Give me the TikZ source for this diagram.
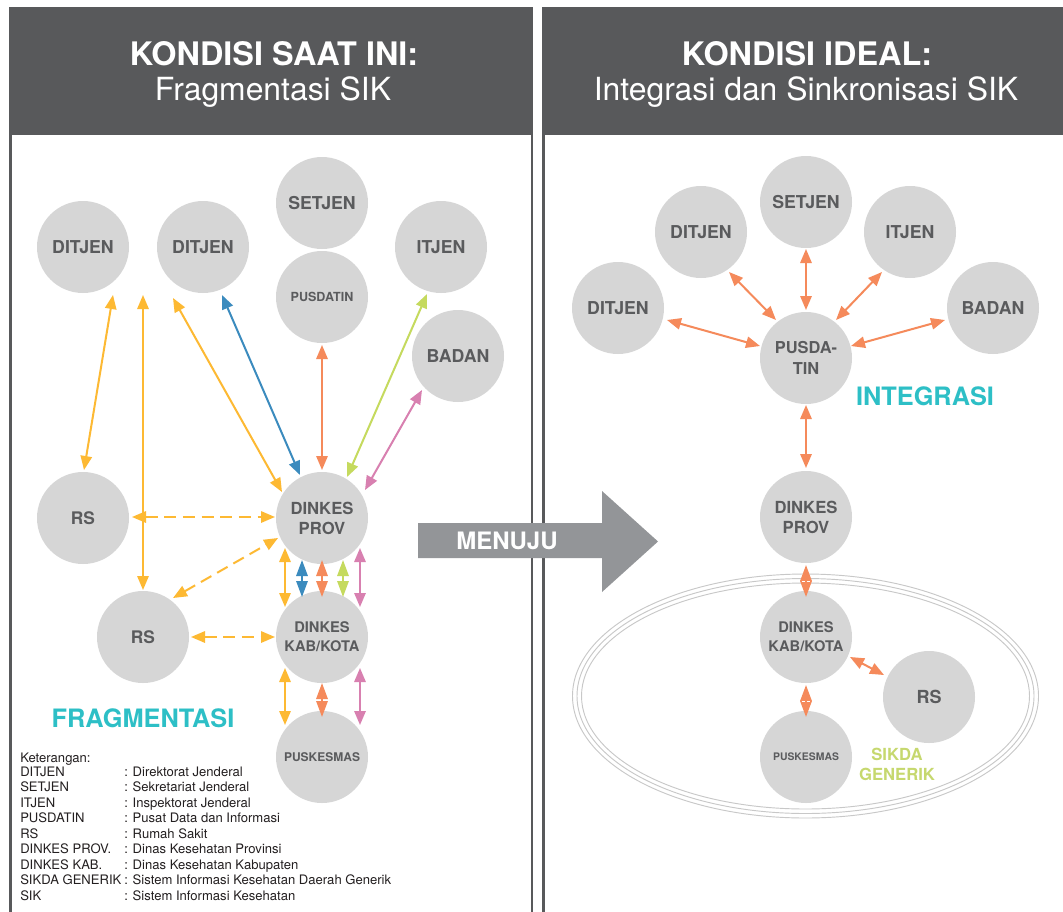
\documentclass[tikz,border=0pt]{standalone}
\usepackage{fontspec}
\setmainfont{TeX Gyre Heros}
\usetikzlibrary{arrows.meta,decorations.markings}

\definecolor{hdr}{HTML}{58595B}
\definecolor{nodefill}{HTML}{D6D6D6}
\definecolor{nodetext}{HTML}{5A5B5D}
\definecolor{cyel}{HTML}{FDB933}
\definecolor{cblu}{HTML}{3B8BBE}
\definecolor{cora}{HTML}{F58A5B}
\definecolor{cgrn}{HTML}{C5DA5E}
\definecolor{cpnk}{HTML}{D880B0}
\definecolor{tealtxt}{HTML}{2DBFC6}
\definecolor{sikda}{HTML}{C6D86E}
\definecolor{menuju}{HTML}{939598}
\definecolor{ring}{HTML}{C8C8C8}
\definecolor{legtext}{HTML}{231F20}

\newcommand{\fsz}[2]{\fontsize{#1}{#2}\selectfont\bfseries}

\tikzset{
  unit/.style={circle, fill=nodefill, minimum size=69pt, inner sep=0pt,
    text=nodetext, align=center},
  link/.style={line width=1.5pt,
    {Triangle[length=10.5pt,width=8.5pt]}-{Triangle[length=10.5pt,width=8.5pt]}},
  dlink/.style={link, dash pattern=on 9pt off 5pt},
  twin/.style={line width=1.5pt,
    {Triangle[length=12pt,width=8.5pt]}-{Triangle[length=12pt,width=8.5pt]},
    postaction={decorate},
    decoration={markings, mark=at position 0.5 with {
      \draw[-, white, line width=0.5pt] (0,-3.2pt) -- (0,-0.8pt) (0,0.8pt) -- (0,3.2pt);}}},
  legend/.style={anchor=base west, inner sep=0pt, text=legtext,
    font=\fontsize{9.8}{12}\selectfont},
  headtitle/.style={anchor=base, inner sep=0pt, text=white,
    font=\fontsize{24.3}{28}\selectfont\bfseries},
  headsub/.style={anchor=base, inner sep=0pt, text=white,
    font=\fontsize{23.9}{28}\selectfont},
  tag/.style={anchor=base, inner sep=0pt, text=tealtxt,
    font=\fontsize{19}{22}\selectfont\bfseries},
}

\begin{document}
\begin{tikzpicture}[x=0.75pt, y=-0.75pt]
\useasboundingbox (0,0) rectangle (1063,911);
\clip (0,0) rectangle (1063,911);
\fill[white] (0,0) rectangle (1063,911);

% panels with dark headers
\draw[hdr, line width=1.6pt] (10.5,8) rectangle (532,940);
\fill[hdr] (10,8) rectangle (532.5,135);
\draw[hdr, line width=1.6pt] (543.5,8) rectangle (1080,940);
\fill[hdr] (543,8) rectangle (1080,135);

\node[headtitle] (lt) at (274,65) {KONDISI SAAT INI:};
\node[headsub] (ls) at (273,100) {Fragmentasi SIK};
\node[headtitle] (rt) at (807,65) {KONDISI IDEAL:};
\node[headsub] (rsub) at (806,100) {Integrasi dan Sinkronisasi SIK};

% transition arrow between the panels
\fill[menuju] (418,523) -- (602,523) -- (602,491) -- (658,541.5)
  -- (602,592) -- (602,558) -- (418,558) -- cycle;
\node[anchor=center, inner sep=0pt, text=white,
  font=\fontsize{18}{20}\selectfont\bfseries] (mn) at (507,541) {MENUJU};

% ---------- current condition ----------
\node[unit, font=\fsz{13.3}{16}] (d1) at (83,247) {DITJEN};
\node[unit, font=\fsz{13.3}{16}] (d2) at (203,247) {DITJEN};
\node[unit, font=\fsz{13.3}{16}] (setjen) at (322,203) {SETJEN};
\node[unit, font=\fsz{9.4}{11}] (pusdatin) at (322,297) {PUSDATIN};
\node[unit, font=\fsz{13.3}{16}] (itjen) at (441,247) {ITJEN};
\node[unit, font=\fsz{13.3}{16}] (badan) at (458,356) {BADAN};
\node[unit, font=\fsz{13}{16}] (rs1) at (83,518) {RS};
\node[unit, font=\fsz{12.5}{15}] (prov) at (322,518) {DINKES\\PROV};
\node[unit, font=\fsz{13}{16}] (rs2) at (143,637) {RS};
\node[unit, font=\fsz{11}{14.25}] (kab) at (322,637) {DINKES\\KAB/KOTA};
\node[unit, font=\fsz{9}{11}] (pusk) at (322,757) {PUSKESMAS};
\coordinate (free) at (143,295);

\node[tag] (frag) at (143,727) {FRAGMENTASI};

\draw[link, cyel] ([shift={(30,48)}]d1.center) -- ([shift={(1,-48)}]rs1.center);
\draw[link, cyel] (free) -- ([shift={(0,-47)}]rs2.center);
\draw[link, cyel] ([shift={(-30,51)}]d2.center) -- ([shift={(-40,-26)}]prov.center);
\draw[link, cblu] ([shift={(19,48)}]d2.center) -- ([shift={(-22,-43)}]prov.center);
\draw[link, cora] ([shift={(0,48)}]pusdatin.center) -- ([shift={(0,-48)}]prov.center);
\draw[link, cgrn] ([shift={(-14,47)}]itjen.center) -- ([shift={(25,-41)}]prov.center);
\draw[link, cpnk] ([shift={(-36,34)}]badan.center) -- ([shift={(43,-28)}]prov.center);
\draw[dlink, cyel] ([shift={(49,-1)}]rs1.center) -- ([shift={(-47,-1)}]prov.center);
\draw[dlink, cyel] ([shift={(30,-39)}]rs2.center) -- ([shift={(-44,20)}]prov.center);
\draw[dlink, cyel] ([shift={(48,0)}]rs2.center) -- ([shift={(-47,0)}]kab.center);

\draw[link, cyel] ([shift={(-37,30)}]prov.center) -- ([shift={(-37,-30)}]kab.center);
\draw[twin, cblu] ([shift={(-20,42)}]prov.center) -- ([shift={(-20,-40)}]kab.center);
\draw[twin, cora] ([shift={(0,42)}]prov.center) -- ([shift={(0,-40)}]kab.center);
\draw[twin, cgrn] ([shift={(21,42)}]prov.center) -- ([shift={(21,-40)}]kab.center);
\draw[link, cpnk] ([shift={(38,30)}]prov.center) -- ([shift={(38,-30)}]kab.center);

\draw[link, cyel] ([shift={(-37,31)}]kab.center) -- ([shift={(-37,-32)}]pusk.center);
\draw[twin, cora] ([shift={(0,46)}]kab.center) -- ([shift={(0,-40)}]pusk.center);
\draw[link, cpnk] ([shift={(38,31)}]kab.center) -- ([shift={(38,-32)}]pusk.center);

% legend
\node[legend] (k0) at (20,762) {Keterangan:};
\node[legend] (k1) at (20,776) {DITJEN};
\node[legend] (k2) at (20,791.5) {SETJEN};
\node[legend] (k3) at (20,807) {ITJEN};
\node[legend] (k4) at (20,822.5) {PUSDATIN};
\node[legend] (k5) at (20,838) {RS};
\node[legend] (k6) at (20,853.5) {DINKES PROV.};
\node[legend] (k7) at (20,869) {DINKES KAB.};
\node[legend] (k8) at (20,884.5) {SIKDA GENERIK};
\node[legend] (k9) at (20,900) {SIK};
\node[legend] (e1) at (124,776) {: Direktorat Jenderal};
\node[legend] (e2) at (124,791.5) {: Sekretariat Jenderal};
\node[legend] (e3) at (124,807) {: Inspektorat Jenderal};
\node[legend] (e4) at (124,822.5) {: Pusat Data dan Informasi};
\node[legend] (e5) at (124,838) {: Rumah Sakit};
\node[legend] (e6) at (124,853.5) {: Dinas Kesehatan Provinsi};
\node[legend] (e7) at (124,869) {: Dinas Kesehatan Kabupaten};
\node[legend] (e8) at (124,884.5) {: Sistem Informasi Kesehatan Daerah Generik};
\node[legend] (e9) at (124,900) {: Sistem Informasi Kesehatan};

% ---------- ideal condition ----------
% triple ring around the district level
\foreach \r in {0,4.5,9}
  \draw[ring, line width=0.7pt] (805.5,696) ellipse [x radius={(233-\r)*0.75pt}, y radius={(122-\r)*0.75pt}];

\node[unit, font=\fsz{13.3}{16}] (rd1) at (618,308) {DITJEN};
\node[unit, font=\fsz{13.3}{16}] (rd2) at (701,232) {DITJEN};
\node[unit, font=\fsz{13.3}{16}] (rset) at (806,202) {SETJEN};
\node[unit, font=\fsz{13.3}{16}] (rit) at (910,232) {ITJEN};
\node[unit, font=\fsz{13.3}{16}] (rbad) at (993,308) {BADAN};
\node[unit, font=\fsz{12.3}{15.75}] (rpus) at (806,358) {PUSDA-\\TIN};
\node[unit, font=\fsz{12.5}{15}] (rprov) at (806,517) {DINKES\\PROV};
\node[unit, font=\fsz{11}{14.25}] (rkab) at (806,637) {DINKES\\KAB/KOTA};
\node[unit, font=\fsz{13.5}{16}] (rrs) at (929,697) {RS};
\node[unit, font=\fsz{7.8}{10}] (rpusk) at (806,757) {PUSKESMAS};

\node[tag] (integ) at (925,405) {INTEGRASI};
\node[anchor=base, inner sep=0pt, text=sikda, font=\fsz{12.5}{15}] (sk1) at (897,760) {SIKDA};
\node[anchor=base, inner sep=0pt, text=sikda, font=\fsz{12.5}{15}] (sk2) at (897,780) {GENERIK};

\draw[link, cora] ([shift={(49,12)}]rd1.center) -- ([shift={(-46,-12)}]rpus.center);
\draw[link, cora] ([shift={(28,40)}]rd2.center) -- ([shift={(-30,-38)}]rpus.center);
\draw[link, cora] ([shift={(0,47)}]rset.center) -- ([shift={(0,-48)}]rpus.center);
\draw[link, cora] ([shift={(-28,40)}]rit.center) -- ([shift={(30,-38)}]rpus.center);
\draw[link, cora] ([shift={(-48,12)}]rbad.center) -- ([shift={(45,-12)}]rpus.center);
\draw[link, cora] ([shift={(0,47)}]rpus.center) -- ([shift={(0,-49)}]rprov.center);
\draw[twin, cora] ([shift={(0,48)}]rprov.center) -- ([shift={(0,-40)}]rkab.center);
\draw[link, cora] ([shift={(44,20)}]rkab.center) -- ([shift={(-45,-22)}]rrs.center);
\draw[twin, cora] ([shift={(0,48)}]rkab.center) -- ([shift={(0,-40)}]rpusk.center);
\end{tikzpicture}
\end{document}
